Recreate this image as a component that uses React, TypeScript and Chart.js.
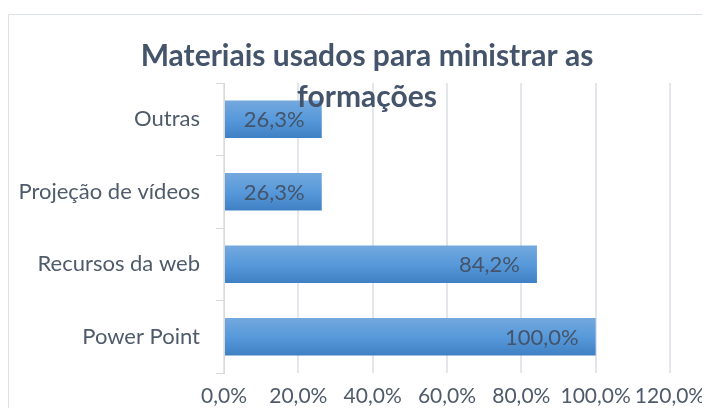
import React, { useEffect, useRef } from 'react';
import { Chart, registerables } from 'chart.js';

Chart.register(...registerables);

const categories = ['Outras', 'Projeção de vídeos', 'Recursos da web', 'Power Point'];
const values = [26.3, 26.3, 84.2, 100.0];
const xTickValues = [0, 20, 40, 60, 80, 100, 120];
const titleLines = ['Materiais usados para ministrar as', 'formações'];

const FONT = 'Lato, "Open Sans", sans-serif';
const fmt = (v: number) => v.toFixed(1).replace('.', ',') + '%';

const frameAndTitle = {
  id: 'frameAndTitle',
  afterDraw(chart: any) {
    const ctx = chart.ctx;
    ctx.save();
    ctx.strokeStyle = '#DCE1E7';
    ctx.lineWidth = 1;
    ctx.beginPath();
    ctx.moveTo(0.5, chart.height);
    ctx.lineTo(0.5, 6.5);
    ctx.lineTo(chart.width, 6.5);
    ctx.stroke();
    ctx.fillStyle = '#44546A';
    ctx.font = `bold 30px ${FONT}`;
    ctx.textAlign = 'center';
    ctx.textBaseline = 'middle';
    ctx.fillText(titleLines[0], 359, 48);
    ctx.fillText(titleLines[1], 359, 89);
    ctx.restore();
  },
};

const dataLabels = {
  id: 'dataLabels',
  afterDatasetsDraw(chart: any) {
    const ctx = chart.ctx;
    const meta = chart.getDatasetMeta(0);
    ctx.save();
    ctx.font = `22px ${FONT}`;
    ctx.fillStyle = '#44546A';
    ctx.textAlign = 'right';
    ctx.textBaseline = 'middle';
    meta.data.forEach((el: any, i: number) => {
      ctx.fillText(fmt(values[i]), el.x - 17, el.y + 1);
    });
    ctx.restore();
  },
};

export default function App() {
  const ref = useRef<HTMLCanvasElement>(null);
  useEffect(() => {
    if (!ref.current) return;
    const chart = new Chart(ref.current, {
      type: 'bar',
      data: {
        labels: categories,
        datasets: [
          {
            data: values,
            backgroundColor: (c: any) => {
              const ch = c.chart;
              const ys = ch.scales && ch.scales.y;
              if (!ys || c.dataIndex === undefined) return '#5B9BD5';
              const yc = ys.getPixelForValue(c.dataIndex);
              if (!isFinite(yc)) return '#5B9BD5';
              const h = 19;
              const g = ch.ctx.createLinearGradient(0, yc - h, 0, yc + h);
              g.addColorStop(0, '#74A9DE');
              g.addColorStop(0.5, '#5799DA');
              g.addColorStop(1, '#3F80C4');
              return g;
            },
            borderWidth: 0,
            barPercentage: 0.8,
            categoryPercentage: 0.65,
          },
        ],
      },
      options: {
        indexAxis: 'y',
        responsive: false,
        animation: false,
        devicePixelRatio: 1,
        layout: { padding: { top: 75, right: 40, bottom: 0, left: 0 } },
        plugins: {
          legend: { display: false },
          title: { display: false },
          tooltip: { enabled: false },
        },
        scales: {
          x: {
            min: 0,
            max: 120,
            afterBuildTicks: (scale: any) => {
              scale.ticks = xTickValues.map((v) => ({ value: v }));
            },
            afterFit: (scale: any) => {
              scale.height = 35;
              scale.paddingRight = 0;
            },
            ticks: {
              callback: (v: any) => fmt(Number(v)),
              font: { family: FONT, size: 21 },
              color: '#4F5B6B',
              padding: 11,
              maxRotation: 0,
              autoSkip: false,
            },
            grid: { color: '#E3E6EA', lineWidth: 2, drawTicks: false },
            border: { display: false },
          },
          y: {
            afterFit: (scale: any) => {
              scale.width = 216;
            },
            ticks: {
              font: { family: FONT, size: 22 },
              color: '#4F5B6B',
              padding: 16,
            },
            grid: {
              drawOnChartArea: false,
              tickLength: 8,
              offset: true,
              color: '#D9D9D9',
            },
            border: { color: '#D9D9D9', width: 1 },
          },
        },
      },
      plugins: [dataLabels, frameAndTitle],
    } as any);
    return () => chart.destroy();
  }, []);
  return (
    <div style={{ width: 702, height: 400 }}>
      <canvas ref={ref} width={702} height={400} />
    </div>
  );
}
